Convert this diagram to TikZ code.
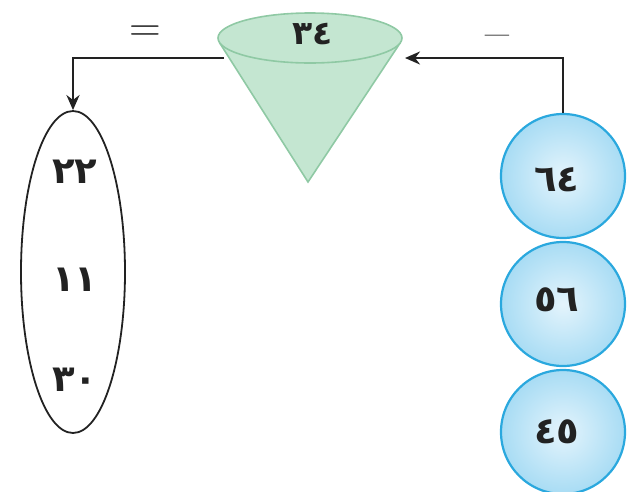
\documentclass[tikz,border=0pt]{standalone}
\usepackage{fontspec}
\newfontfamily\arabicfont{DejaVu Sans}
\usetikzlibrary{shapes.geometric,arrows.meta}
\definecolor{conefill}{HTML}{C4E6D1}
\definecolor{coneline}{HTML}{8FC9A4}
\definecolor{ballin}{HTML}{E4F4FC}
\definecolor{ballout}{HTML}{A8DCF4}
\definecolor{ballline}{HTML}{2AA8DE}
\definecolor{ink}{HTML}{222222}
\tikzset{
  num/.style={font=\arabicfont\bfseries\fontsize{37}{37}\selectfont, text=ink},
  ball/.style={circle, minimum size=124pt, draw=ballline, line width=2.2pt,
    inner color=ballin, outer color=ballout, inner sep=0pt},
  arr/.style={draw=ink, line width=2.8pt, -{Stealth[length=15pt,width=13pt]}},
  sign/.style={font=\fontsize{44}{44}\selectfont, text=ink, inner sep=0pt}
}
\begin{document}
\begin{tikzpicture}[x=1pt,y=-1pt]
\useasboundingbox (0,0) rectangle (627,491);
% cone body
\fill[conefill] (219.3,42.3) -- (308,182) -- (400.5,42.4) -- cycle;
\draw[coneline, line width=1.6pt] (219.3,42.3) -- (308,182) -- (400.5,42.4);
\node[ellipse, minimum width=184pt, minimum height=50pt, fill=conefill, draw=coneline, line width=1.6pt, inner sep=0pt] (cone) at (310,38) {};
\node[num, font=\arabicfont\bfseries\fontsize{33}{33}\selectfont] (conetxt) at (313,34) {٣٤};
% left ellipse
\node[ellipse, minimum width=104pt, minimum height=322pt, draw=ink, line width=1.8pt, inner sep=0pt] (out) at (73,272) {};
\node[num] (o1) at (75,172) {٢٢};
\node[num] (o2) at (75,280) {١١};
\node[num] (o3) at (75,380) {٣٠};
% balls
\node[ball] (c1) at (563,176) {};
\node[ball] (c2) at (563,304) {};
\node[ball] (c3) at (563,432) {};
\node[num] (t1) at (557,180) {٦٤};
\node[num] (t2) at (557,300) {٥٦};
\node[num] (t3) at (557,432) {٤٥};
% connectors
\coordinate (coneL) at (224,58);
\coordinate (coneR) at (405,58);
\draw[arr] (coneL) -| (out.north);
\draw[arr] (c1.north) |- (coneR);
\node[sign] (eq) at (145,34) {=};
\node[sign, font=\fontsize{52}{52}\selectfont] (mi) at (497,42) {–};
\end{tikzpicture}
\end{document}
